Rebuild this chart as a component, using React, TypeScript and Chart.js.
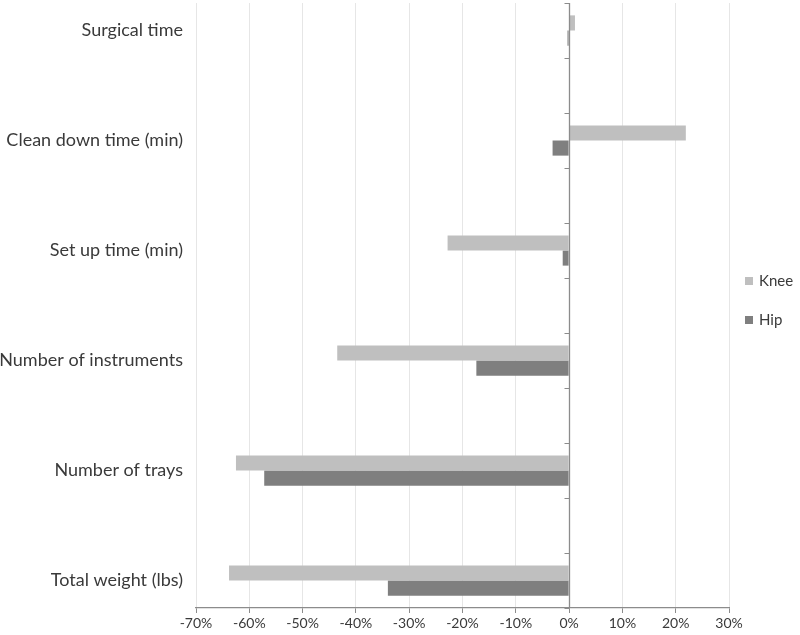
import React, { useEffect, useRef } from "react";
import { Chart, registerables } from "chart.js";

Chart.register(...registerables);

// Categories (blank entries are spacer rows, as in the original sheet)
const categories: string[] = [
  "Surgical time",
  "",
  "Clean down time (min)",
  "",
  "Set up time (min)",
  "",
  "Number of instruments",
  "",
  "Number of trays",
  "",
  "Total weight (lbs)",
];

const kneeValues: (number | null)[] = [1.1, null, 21.9, null, -22.8, null, -43.5, null, -62.5, null, -63.8];
const hipValues: (number | null)[] = [-0.3, null, -3.1, null, -1.2, null, -17.4, null, -57.2, null, -34.0];

const xMin = -70;
const xMax = 30;
const xStep = 10;

const seriesNames = ["Knee", "Hip"];
const seriesColors = ["#bfbfbf", "#7f7f7f"];

const FONT = "Lato, 'Open Sans', sans-serif";
const TEXT = "#3a3a3a";
const AXIS = "#8c8c8c";

const zeroLinePlugin = {
  id: "zeroLine",
  afterDatasetsDraw(chart: any) {
    const { ctx, chartArea, scales } = chart;
    const x0 = Math.round(scales.x.getPixelForValue(0)) + 0.5;
    ctx.save();
    ctx.strokeStyle = AXIS;
    ctx.lineWidth = 1.3;
    ctx.beginPath();
    ctx.moveTo(x0, chartArea.top);
    ctx.lineTo(x0, chartArea.bottom);
    ctx.stroke();
    const n = categories.length;
    const h = (chartArea.bottom - chartArea.top) / n;
    ctx.lineWidth = 1;
    for (let i = 0; i <= n; i++) {
      const y = Math.round(chartArea.top + i * h) + 0.5;
      ctx.beginPath();
      ctx.moveTo(x0 - 5, y);
      ctx.lineTo(x0, y);
      ctx.stroke();
    }
    ctx.restore();
  },
};

const legendPlugin = {
  id: "sideLegend",
  afterDraw(chart: any) {
    const { ctx, chartArea } = chart;
    const cx = chartArea.right + 16;
    const cy = (chartArea.top + chartArea.bottom) / 2 - 5;
    const gap = 39;
    ctx.save();
    ctx.font = `15px ${FONT}`;
    ctx.textBaseline = "middle";
    ctx.textAlign = "left";
    seriesNames.forEach((name, i) => {
      const y = cy - gap / 2 + i * gap;
      ctx.fillStyle = seriesColors[i];
      ctx.fillRect(cx, y - 4, 8, 8);
      ctx.fillStyle = TEXT;
      ctx.fillText(name, cx + 14, y);
    });
    ctx.restore();
  },
};

export default function App() {
  const ref = useRef<HTMLCanvasElement>(null);
  useEffect(() => {
    if (!ref.current) return;
    const chart = new Chart(ref.current, {
      type: "bar",
      data: {
        labels: categories,
        datasets: [
          {
            label: seriesNames[0],
            data: kneeValues,
            backgroundColor: seriesColors[0],
            borderWidth: 0,
            categoryPercentage: 0.55,
            barPercentage: 1,
          },
          {
            label: seriesNames[1],
            data: hipValues,
            backgroundColor: seriesColors[1],
            borderWidth: 0,
            categoryPercentage: 0.55,
            barPercentage: 1,
          },
        ],
      },
      options: {
        indexAxis: "y",
        animation: false,
        responsive: false,
        maintainAspectRatio: false,
        layout: { padding: { top: 3, right: 71, left: 0, bottom: 0 } },
        plugins: {
          legend: { display: false },
          tooltip: { enabled: false },
        },
        scales: {
          x: {
            type: "linear",
            min: xMin,
            max: xMax,
            ticks: {
              stepSize: xStep,
              callback: (v: any) => `${v}%`,
              font: { family: FONT, size: 14 },
              color: TEXT,
              padding: 2,
              maxRotation: 0,
            },
            grid: {
              color: "#e6e6e6",
              tickColor: AXIS,
              tickLength: 5,
              lineWidth: 1,
            },
            border: { color: AXIS, width: 1.3 },
            afterFit: (s: any) => {
              s.height = 27;
              s.paddingLeft = 0;
              s.paddingRight = 0;
            },
          },
          y: {
            type: "category",
            grid: { display: false },
            border: { display: false },
            ticks: {
              font: { family: FONT, size: 18 },
              color: TEXT,
              padding: 5,
              autoSkip: false,
            },
            afterFit: (s: any) => {
              s.width = 196;
              s.paddingTop = 0;
              s.paddingBottom = 0;
            },
          },
        },
      },
      plugins: [zeroLinePlugin, legendPlugin],
    } as any);
    return () => chart.destroy();
  }, []);
  return (
    <div style={{ position: "fixed", left: 0, top: 0, width: 800, height: 635, background: "#fff" }}>
      <canvas ref={ref} width={800} height={635} style={{ width: 800, height: 635 }} />
    </div>
  );
}
